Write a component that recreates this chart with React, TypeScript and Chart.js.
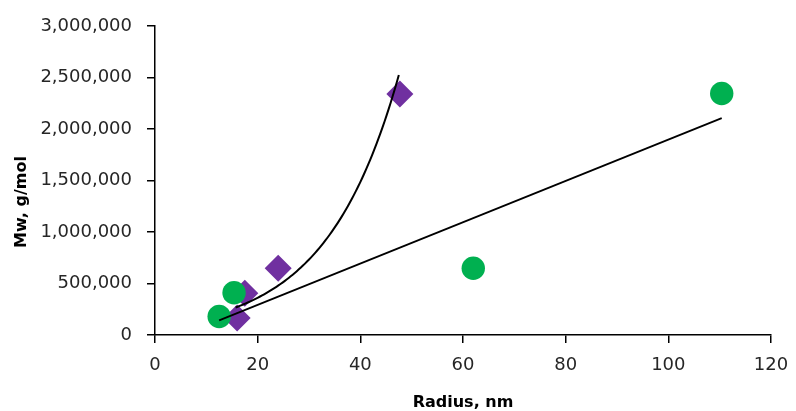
import React, { useEffect, useRef } from "react";
import { Chart, registerables } from "chart.js";

Chart.register(...registerables);

// Series
const radiusDiamond = [16.0, 17.5, 24.0, 47.7];
const mwDiamond = [165000, 405000, 648000, 2340000];
const radiusCircle = [12.5, 15.4, 62.0, 110.4];
const mwCircle = [180000, 410000, 648000, 2345000];

// Axis ticks
const xMin = 0;
const xMax = 120;
const xStep = 20;
const yMin = 0;
const yMax = 3000000;
const yStep = 500000;

const xTitle = "Radius, nm";
const yTitle = "Mw, g/mol";

function linearFit(xs: number[], ys: number[]) {
  const n = xs.length;
  const mx = xs.reduce((a, b) => a + b, 0) / n;
  const my = ys.reduce((a, b) => a + b, 0) / n;
  let sxx = 0, sxy = 0;
  for (let i = 0; i < n; i++) {
    sxx += (xs[i] - mx) ** 2;
    sxy += (xs[i] - mx) * (ys[i] - my);
  }
  const slope = sxy / sxx;
  return { slope, intercept: my - slope * mx };
}

function expFit(xs: number[], ys: number[]) {
  const lf = linearFit(xs, ys.map((v) => Math.log(v)));
  return { a: Math.exp(lf.intercept), b: lf.slope };
}

const yTitlePlugin = {
  id: "yTitlePlugin",
  afterDraw(chart: any) {
    const ctx = chart.ctx;
    ctx.save();
    ctx.font = "bold 16px 'DejaVu Sans'";
    ctx.fillStyle = "#000";
    ctx.textAlign = "center";
    ctx.textBaseline = "middle";
    ctx.translate(22, 202);
    ctx.rotate(-Math.PI / 2);
    ctx.fillText(yTitle, 0, 0);
    ctx.restore();
  },
};

export default function App() {
  const ref = useRef<HTMLCanvasElement | null>(null);

  useEffect(() => {
    if (!ref.current) return;
    const lin = linearFit(radiusCircle, mwCircle);
    const ex = expFit(radiusDiamond, mwDiamond);
    const cMin = Math.min(...radiusCircle);
    const cMax = Math.max(...radiusCircle);
    const linPts = [cMin, cMax].map((x) => ({ x, y: lin.intercept + lin.slope * x }));
    const dMin = Math.min(...radiusDiamond) - 0.3;
    const dMax = Math.max(...radiusDiamond) - 0.2;
    const expPts: { x: number; y: number }[] = [];
    const N = 80;
    for (let i = 0; i <= N; i++) {
      const x = dMin + ((dMax - dMin) * i) / N;
      expPts.push({ x, y: ex.a * Math.exp(ex.b * x) });
    }

    const tickFont = { family: "'DejaVu Sans'", size: 18 };
    const chart = new Chart(ref.current, {
      type: "scatter",
      data: {
        datasets: [
          {
            label: "diamonds",
            data: radiusDiamond.map((x, i) => ({ x, y: mwDiamond[i] })),
            pointStyle: "rectRot",
            pointRadius: 13.5,
            pointHoverRadius: 13.5,
            backgroundColor: "#7030A0",
            borderWidth: 0,
            order: 3,
          },
          {
            label: "circles",
            data: radiusCircle.map((x, i) => ({ x, y: mwCircle[i] })),
            pointStyle: "circle",
            pointRadius: 11.7,
            pointHoverRadius: 11.7,
            backgroundColor: "#00B050",
            borderWidth: 0,
            order: 2,
          },
          {
            label: "linear",
            type: "line",
            data: linPts,
            showLine: true,
            pointRadius: 0,
            borderColor: "#000",
            borderWidth: 1.8,
            order: 1,
          },
          {
            label: "exponential",
            type: "line",
            data: expPts,
            showLine: true,
            pointRadius: 0,
            borderColor: "#000",
            borderWidth: 2,
            tension: 0,
            order: 0,
          },
        ],
      } as any,
      options: {
        responsive: false,
        animation: false,
        events: [],
        layout: { padding: { top: 26, right: 25, left: 0, bottom: 0 } },
        plugins: {
          legend: { display: false },
          tooltip: { enabled: false },
        },
        scales: {
          x: {
            type: "linear",
            min: xMin,
            max: xMax,
            afterFit(scale: any) {
              scale.height = 76;
              scale.paddingRight = 0;
            },
            ticks: {
              stepSize: xStep,
              color: "#262626",
              font: tickFont,
              padding: 12,
              maxRotation: 0,
            },
            grid: {
              drawOnChartArea: false,
              drawTicks: true,
              tickLength: 8,
              color: "#000",
              lineWidth: 1.5,
            },
            border: { color: "#000", width: 1.5 },
            title: {
              display: true,
              text: xTitle,
              color: "#000",
              font: { family: "'DejaVu Sans'", size: 16, weight: "bold", lineHeight: 1 },
              padding: { top: 0, bottom: 0 },
            },
          },
          y: {
            type: "linear",
            min: yMin,
            max: yMax,
            afterFit(scale: any) {
              scale.width = 155;
            },
            ticks: {
              stepSize: yStep,
              color: "#262626",
              font: tickFont,
              padding: 15,
              callback: (v: any) => Number(v).toLocaleString("en-US"),
            },
            grid: {
              drawOnChartArea: false,
              drawTicks: true,
              tickLength: 8,
              color: "#000",
              lineWidth: 1.5,
            },
            border: { color: "#000", width: 1.5 },
          },
        },
      } as any,
      plugins: [yTitlePlugin],
    });
    return () => chart.destroy();
  }, []);

  return (
    <div style={{ position: "absolute", left: 0, top: 0, width: 796, height: 411, background: "#fff" }}>
      <canvas ref={ref} width={796} height={411} />
    </div>
  );
}
